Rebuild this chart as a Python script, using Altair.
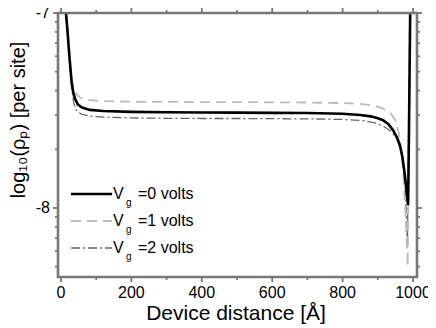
import math
import altair as alt
import pandas as pd

# ---- data (y = log10 of rho_p per site) ----
x_vg0 = [14, 18, 22, 26, 30, 35, 40, 48, 60, 82, 120, 200, 300, 400, 500, 600, 700, 800,
         850, 880, 900, 915, 930, 943, 955, 963, 970, 976, 981, 986, 988, 990, 992]
y_vg0 = [-7.0, -7.08, -7.18, -7.27, -7.35, -7.41, -7.44, -7.47, -7.485, -7.497, -7.503, -7.507,
         -7.509, -7.510, -7.511, -7.512, -7.513, -7.517, -7.523, -7.53, -7.54, -7.55, -7.57,
         -7.60, -7.64, -7.68, -7.74, -7.82, -7.90, -7.985, -7.7, -7.35, -7.0]

x_vg1 = [15, 20, 25, 31, 40, 55, 75, 110, 200, 300, 400, 500, 600, 700, 800, 850, 890, 915,
         935, 950, 960, 968, 975, 980, 985, 988, 991]
y_vg1 = [-7.0, -7.1, -7.22, -7.36, -7.41, -7.435, -7.445, -7.452, -7.455, -7.456, -7.457,
         -7.457, -7.458, -7.459, -7.462, -7.466, -7.475, -7.49, -7.51, -7.55, -7.62, -7.72,
         -7.9, -8.08, -8.30, -7.7, -7.0]

x_vg2 = [14, 18, 24, 30, 36, 45, 60, 85, 130, 200, 300, 400, 500, 600, 700, 800, 860, 895,
         920, 940, 955, 965, 972, 978, 984, 987, 990, 992]
y_vg2 = [-7.0, -7.1, -7.25, -7.38, -7.46, -7.505, -7.52, -7.53, -7.535, -7.538, -7.540,
         -7.541, -7.541, -7.542, -7.543, -7.546, -7.552, -7.565, -7.585, -7.61, -7.65, -7.7,
         -7.77, -7.9, -8.2, -7.7, -7.3, -7.0]

legend_values = ["=0 volts", "=1 volts", "=2 volts"]
x_major_ticks = [0, 200, 400, 600, 800, 1000]
x_major_labels = ["0", "200", "400", "600", "800", "1000"]
x_minor_ticks = [100, 300, 500, 700, 900]
y_major_ticks = [-8, -7]
y_major_labels = ["-8", "-7"]
y_minor_ticks = ([math.log10(m * 1e-9) for m in [5, 6, 7, 8, 9]]
                 + [math.log10(m * 1e-8) for m in [2, 3, 4, 5, 6, 7, 8, 9]])
x_title = "Device distance [Å]"
y_title = "log₁₀(ρₚ) [per site]"

# ---- layout (view covers the whole drawing; plot box drawn by hand) ----
CW, CH = 420, 320
L, R, T, B = 50, 409, 5, 269          # plot box edges in view pixels
xs = alt.Scale(domain=[0, 1000], range=[53, 405], nice=False, zero=False)
ys = alt.Scale(domain=[-8.354, -7.0], range=[B, T], nice=False, zero=False)

FONT = "Liberation Sans"
AXIS_GRAY = "#777777"

df = pd.concat([
    pd.DataFrame({"x": x_vg0, "y": y_vg0, "s": "0"}),
    pd.DataFrame({"x": x_vg1, "y": y_vg1, "s": "1"}),
    pd.DataFrame({"x": x_vg2, "y": y_vg2, "s": "2"}),
])
df["order"] = range(len(df))
one = pd.DataFrame({"k": [0]})
xminor_df = pd.DataFrame({"t": x_minor_ticks})
yminor_df = pd.DataFrame({"t": y_minor_ticks})
xmajor_df = pd.DataFrame({"t": x_major_ticks, "lab": x_major_labels})
ymajor_df = pd.DataFrame({"t": y_major_ticks, "lab": y_major_labels})

X = lambda f: alt.X(f, scale=xs, axis=None)
Y = lambda f: alt.Y(f, scale=ys, axis=None)

frame_style = dict(color=AXIS_GRAY, strokeWidth=2.6)
tick_style = dict(color=AXIS_GRAY, strokeWidth=1.8)

frame_layers = [
    alt.Chart(one).mark_rule(**frame_style).encode(x=alt.value(L), y=alt.value(T - 1), y2=alt.value(B + 1)),
    alt.Chart(one).mark_rule(**frame_style).encode(x=alt.value(R), y=alt.value(T - 1), y2=alt.value(B + 1)),
    alt.Chart(one).mark_rule(**frame_style).encode(y=alt.value(T), x=alt.value(L - 1), x2=alt.value(R + 1)),
    alt.Chart(one).mark_rule(**frame_style).encode(y=alt.value(B), x=alt.value(L - 1), x2=alt.value(R + 1)),
]

tick_layers = [
    alt.Chart(xmajor_df).mark_rule(**tick_style).encode(x=X("t:Q"), y=alt.value(B), y2=alt.value(B + 5)),
    alt.Chart(xminor_df).mark_rule(**tick_style).encode(x=X("t:Q"), y=alt.value(B), y2=alt.value(B + 3)),
    alt.Chart(xmajor_df).mark_rule(**tick_style).encode(x=X("t:Q"), y=alt.value(T), y2=alt.value(T - 5)),
    alt.Chart(xminor_df).mark_rule(**tick_style).encode(x=X("t:Q"), y=alt.value(T), y2=alt.value(T - 3)),
    alt.Chart(ymajor_df).mark_rule(**tick_style).encode(y=Y("t:Q"), x=alt.value(L), x2=alt.value(L - 5)),
    alt.Chart(yminor_df).mark_rule(**tick_style).encode(y=Y("t:Q"), x=alt.value(L), x2=alt.value(L - 3)),
    alt.Chart(ymajor_df).mark_rule(**tick_style).encode(y=Y("t:Q"), x=alt.value(R), x2=alt.value(R + 5)),
    alt.Chart(yminor_df).mark_rule(**tick_style).encode(y=Y("t:Q"), x=alt.value(R), x2=alt.value(R + 3)),
]

label_layers = [
    alt.Chart(xmajor_df).mark_text(font=FONT, fontSize=16, align="center", baseline="middle",
                                   color="black").encode(
        x=X("t:Q"), y=alt.value(285), text="lab:N"),
    alt.Chart(ymajor_df).mark_text(font=FONT, fontSize=16, align="right", baseline="middle",
                                   color="black").encode(
        y=Y("t:Q"), x=alt.value(42), text="lab:N"),
    alt.Chart(one).mark_text(text=x_title, font=FONT, fontSize=21, align="center",
                             baseline="middle", color="black").encode(
        x=alt.value(228), y=alt.value(306)),
    alt.Chart(one).mark_text(text=y_title, font=FONT, fontSize=20, align="center",
                             baseline="middle", angle=270, color="black").encode(
        x=alt.value(11), y=alt.value(112)),
]

styles = {
    "2": dict(color="#666666", strokeWidth=1.3, strokeDash=[9, 3, 2, 3]),
    "1": dict(color="#bbbbbb", strokeWidth=1.8, strokeDash=[10, 6]),
    "0": dict(color="#000000", strokeWidth=2.6),
}

line_layers = []
for s in ["2", "1", "0"]:
    line_layers.append(
        alt.Chart(df).transform_filter(alt.datum.s == s)
        .mark_line(**styles[s])
        .encode(x=X("x:Q"), y=Y("y:Q"), order="order:Q")
    )

legend_layers = []
row_y = [186, 213, 240]
for i, s in enumerate(["0", "1", "2"]):
    st = styles[s]
    rule_kwargs = dict(color=st["color"], strokeWidth=st["strokeWidth"])
    if "strokeDash" in st:
        rule_kwargs["strokeDash"] = st["strokeDash"]
    legend_layers.append(
        alt.Chart(one).mark_rule(**rule_kwargs).encode(
            x=alt.value(63), x2=alt.value(104), y=alt.value(row_y[i])))
    legend_layers.append(
        alt.Chart(one).mark_text(text="V", font=FONT, fontSize=16, align="left",
                                 baseline="middle", color="black").encode(
            x=alt.value(105), y=alt.value(row_y[i])))
    legend_layers.append(
        alt.Chart(one).mark_text(text="g", font=FONT, fontSize=10, align="left",
                                 baseline="middle", color="black").encode(
            x=alt.value(118), y=alt.value(row_y[i] + 9)))
    legend_layers.append(
        alt.Chart(one).mark_text(text=legend_values[i], font=FONT, fontSize=16, align="left",
                                 baseline="middle", color="black").encode(
            x=alt.value(130), y=alt.value(row_y[i])))

chart = (
    alt.layer(*line_layers, *frame_layers, *tick_layers, *label_layers, *legend_layers)
    .properties(
        width=CW, height=CH,
        autosize=alt.AutoSizeParams(type="none"),
        padding=0,
    )
    .configure_view(stroke=None)
)

chart.save("out.html", embed_options={"renderer": "svg", "actions": False})
